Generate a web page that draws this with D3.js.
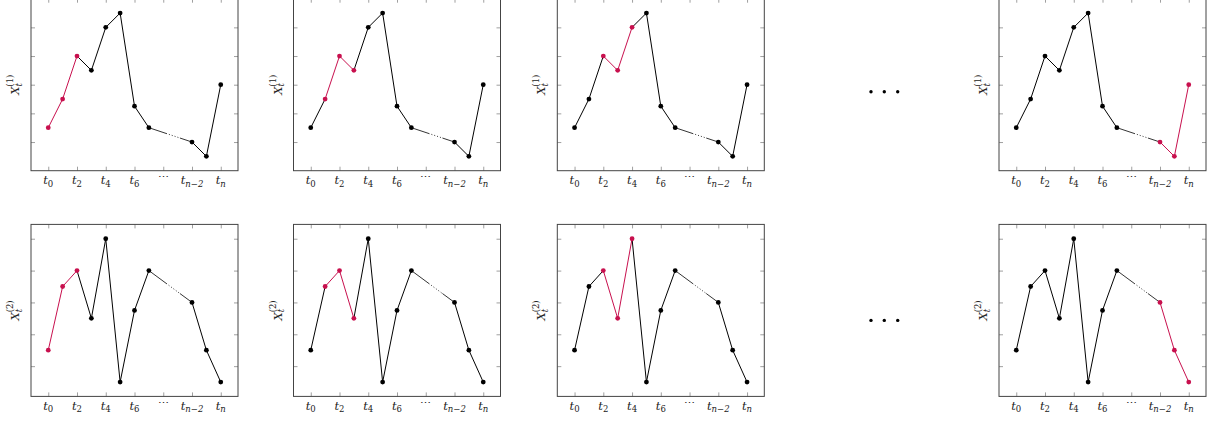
<!DOCTYPE html>
<html>
<head>
<meta charset="utf-8">
<script src="https://cdn.jsdelivr.net/npm/d3@7"></script>
<style>
  body { margin: 0; background: #fff; }
  svg { display: block; }
  text { font-family: "DejaVu Serif", serif; fill: #222; }
</style>
</head>
<body>
<div id="chart"></div>
<script>
// Sliding window over two time series, highlighted points in red

const xIdx = [0, 1, 2, 3, 4, 5, 6, 7, 10, 11, 12];
const series1 = [1.5, 2.5, 4, 3.5, 5, 5.5, 2.25, 1.5, 1, 0.5, 3];
const series2 = [1.5, 3.5, 4, 2.5, 5, 0.5, 2.75, 4, 3, 1.5, 0.5];
const windows = [[0, 2], [1, 3], [2, 4], [10, 12]];
const xTickVals = [0, 2, 4, 6, 8, 10, 12];
const xTickLabels = [["t", "0"], ["t", "2"], ["t", "4"], ["t", "6"], ["\u22EF", ""], ["t", "n\u22122"], ["t", "n"]];
const yTickVals = [1, 2, 3, 4, 5];
const seriesNames = ["1", "2"];

const width = 1224, height = 421;
const panelLefts = [31, 293.5, 557.3, 999];
const rowTops = [-1.3, 224.4];
const pw = 207, ph = 172;
const red = "#c8104e";

const svg = d3.select("#chart").append("svg")
  .attr("width", width).attr("height", height);

[series1, series2].forEach((vals, r) => {
  const lo = d3.min(vals), hi = d3.max(vals), pad = (hi - lo) * 0.1;
  const y = d3.scaleLinear().domain([lo - pad, hi + pad]).range([ph, 0]);
  const x = d3.scaleLinear().domain([-1.2, 13.2]).range([0, pw]);
  const pts = xIdx.map((t, i) => ({ t, v: vals[i] }));

  windows.forEach((win, c) => {
    const g = svg.append("g")
      .attr("transform", `translate(${panelLefts[c]},${rowTops[r]})`);
    const inWin = t => t >= win[0] && t <= win[1];

    // ticks (inward, all four sides)
    const tick = 4;
    const axes = [
      [d3.axisBottom(x).tickValues(xTickVals), `translate(0,${ph})`],
      [d3.axisTop(x).tickValues(xTickVals), null],
      [d3.axisLeft(y).tickValues(yTickVals), null],
      [d3.axisRight(y).tickValues(yTickVals), `translate(${pw},0)`]
    ];
    axes.forEach(([ax, tr]) => {
      const a = g.append("g")
        .call(ax.tickSizeInner(-tick).tickSizeOuter(0).tickFormat(""));
      if (tr) a.attr("transform", tr);
      a.select(".domain").remove();
      a.selectAll("line").attr("stroke", "#888").attr("stroke-width", 0.8);
    });

    g.append("rect")
      .attr("width", pw).attr("height", ph)
      .attr("fill", "none").attr("stroke", "#444").attr("stroke-width", 1);

    // x tick labels
    const lab = g.append("g").selectAll("text")
      .data(xTickVals)
      .join("text")
      .attr("x", d => x(d))
      .attr("y", ph + 13.5)
      .attr("text-anchor", "middle")
      .attr("font-size", 11.5);
    lab.each(function (d, i) {
      const [base, sub] = xTickLabels[i];
      const t = d3.select(this);
      if (!sub) {
        t.attr("dy", -3).attr("font-size", 11).text(base);
        return;
      }
      t.append("tspan").attr("font-style", "italic").text(base);
      t.append("tspan").attr("font-size", 8.5).attr("dy", 2.5)
        .attr("font-style", sub.startsWith("n") ? "italic" : "normal")
        .text(sub);
    });

    // y label
    const yl = g.append("text")
      .attr("transform", `translate(-12,${ph / 2}) rotate(-90)`)
      .attr("text-anchor", "middle")
      .attr("font-size", 11.5);
    yl.append("tspan").attr("font-style", "italic").text("X");
    yl.append("tspan").attr("font-style", "italic").attr("font-size", 8.5).attr("dy", 2.5).text("t");
    yl.append("tspan").attr("font-size", 8.5).attr("dx", -3.5).attr("dy", -8.5)
      .text(`(${seriesNames[r]})`);

    // line segments
    d3.pairs(pts).forEach(([a, b]) => {
      const col = inWin(a.t) && inWin(b.t) ? red : "#000";
      const seg = g.append("line")
        .attr("x1", x(a.t)).attr("y1", y(a.v))
        .attr("x2", x(b.t)).attr("y2", y(b.v))
        .attr("stroke", col).attr("stroke-width", 1);
      if (b.t - a.t > 1) {
        const L = Math.hypot(x(b.t) - x(a.t), y(b.v) - y(a.v));
        const s = 0.42 * L, e = 0.72 * L;
        const arr = [s];
        let pos = s;
        while (pos + 3 < e) { arr.push(2, 1); pos += 3; }
        arr.push(e - pos, L);
        seg.attr("stroke-dasharray", arr.join(" ")).attr("stroke-width", 0.8);
      }
    });

    g.selectAll("circle.pt")
      .data(pts)
      .join("circle")
      .attr("class", "pt")
      .attr("cx", d => x(d.t))
      .attr("cy", d => y(d.v))
      .attr("r", 2.4)
      .attr("fill", d => inWin(d.t) ? red : "#000");
  });

  // ellipsis between third and fourth panel
  const cy = rowTops[r] + ph / 2 + (r === 0 ? 7 : 10);
  svg.append("g").selectAll("circle")
    .data([871, 884.3, 897.7])
    .join("circle")
    .attr("cx", d => d).attr("cy", cy).attr("r", 1.7).attr("fill", "#000");
});
</script>
</body>
</html>
